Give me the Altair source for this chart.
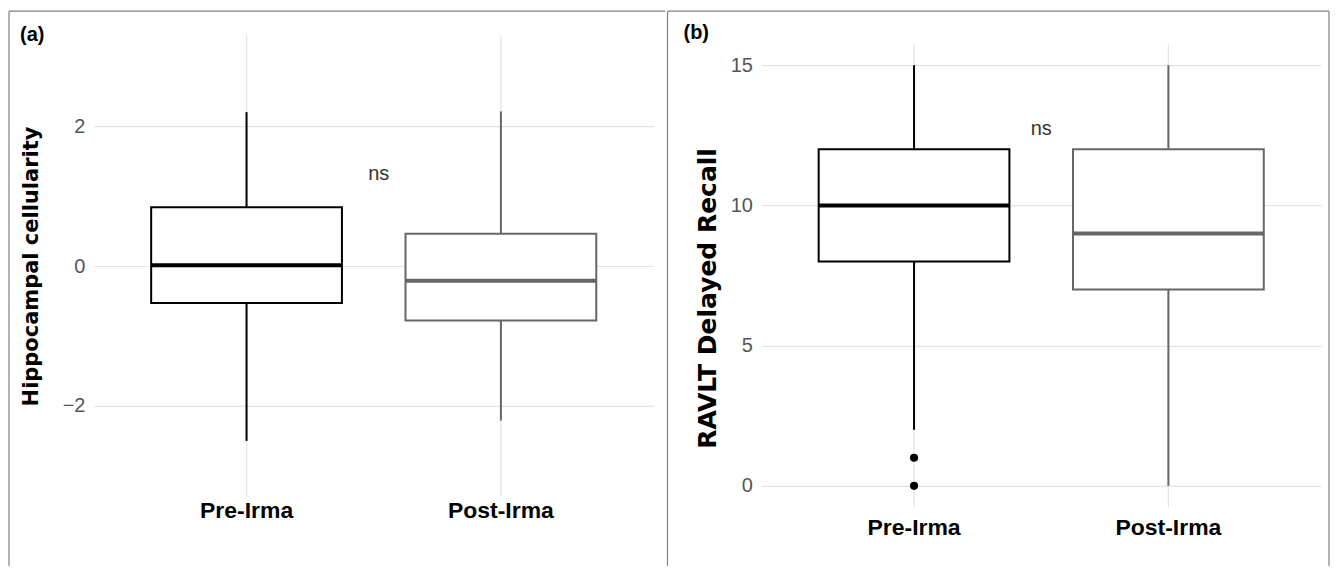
import altair as alt
import pandas as pd

groups = ["Pre-Irma", "Post-Irma"]
colors = ["#000000", "#666666"]
panel_tags = ["(a)", "(b)"]
ns_text = "ns"

# Panel (a): Hippocampal cellularity (box-plot summary values)
a_min = [-2.50, -2.21]
a_q1 = [-0.53, -0.78]
a_med = [0.01, -0.21]
a_q3 = [0.84, 0.46]
a_max = [2.20, 2.21]
a_domain = [-3.3, 3.3]
a_grid = [-3.3, 3.3]
a_ticks = [-2, 0, 2]
a_ns_y = 1.32

# Panel (b): RAVLT Delayed Recall
b_min = [2, 0]
b_q1 = [8, 7]
b_med = [10, 9]
b_q3 = [12, 12]
b_max = [15, 15]
b_out_group = ["Pre-Irma", "Pre-Irma"]
b_out_value = [1, 0]
b_domain = [-0.748, 16.07]
b_grid = [-0.75, 15.75]
b_ticks = [0, 5, 10, 15]
b_ns_y = 12.72

W = 560
STEP = W / 2.2
BAND = STEP * 0.75
GRID = "#e3e3e3"
BORDER = "#7f7f7f"


def panel(mins, q1s, meds, q3s, maxs, domain, grid, ticks, title, title_size,
          title_x, title_y, height, label_pad, ns_y, ns_dx, tag, tag_x, tag_y,
          borders, out_groups=None, out_values=None):
    df = pd.DataFrame({"group": groups, "lo": mins, "q1": q1s, "med": meds,
                       "q3": q3s, "hi": maxs,
                       "glo": [grid[0]] * 2, "ghi": [grid[1]] * 2})
    xenc = alt.X("group:N", sort=groups,
                 scale=alt.Scale(domain=groups, paddingInner=0.25, paddingOuter=0.225),
                 axis=alt.Axis(title=None, labelFont="Liberation Sans",
                               labelFontWeight="bold", labelFontSize=23,
                               labelColor="#000000", labelPadding=label_pad,
                               ticks=False, domain=False, grid=False, labelAngle=0))
    yscale = alt.Scale(domain=domain, nice=False, zero=False)
    yaxis = alt.Axis(values=ticks, title=title, titleFont="DejaVu Sans",
                     titleFontWeight="bold", titleFontSize=title_size,
                     titleColor="#000000", titleAngle=-90, titleX=title_x,
                     titleY=title_y, titleAlign="center", titleBaseline="middle",
                     labelFont="Liberation Sans", labelFontSize=20,
                     labelColor="#555555", labelPadding=9, ticks=False,
                     domain=False, grid=True, gridColor=GRID, gridWidth=1.2)

    def Y(f):
        return alt.Y(f + ":Q", scale=yscale, axis=yaxis)

    cscale = alt.Scale(domain=groups, range=colors)
    color = alt.Color("group:N", scale=cscale, legend=None)
    stroke = alt.Stroke("group:N", scale=cscale, legend=None)

    base = alt.Chart(df)
    vgrid = base.mark_rule(color=GRID, strokeWidth=1.2).encode(x=xenc, y=Y("glo"), y2="ghi:Q")
    wlo = base.mark_rule(strokeWidth=2).encode(x=xenc, y=Y("lo"), y2="q1:Q", color=color)
    whi = base.mark_rule(strokeWidth=2).encode(x=xenc, y=Y("q3"), y2="hi:Q", color=color)
    box = base.mark_bar(fill="white", strokeWidth=2).encode(x=xenc, y=Y("q1"), y2="q3:Q", stroke=stroke)
    med = base.mark_tick(thickness=4, size=BAND, opacity=1).encode(x=xenc, y=Y("med"), color=color)

    ns_df = pd.DataFrame({"group": [groups[0]], "y": [ns_y], "t": [ns_text]})
    ns = alt.Chart(ns_df).mark_text(font="Liberation Sans", fontSize=20, color="#333333",
                                    dx=STEP / 2 + ns_dx, baseline="middle").encode(
        x=xenc, y=Y("y"), text="t:N")

    tag_df = pd.DataFrame({"t": [tag]})
    tagm = alt.Chart(tag_df).mark_text(font="Liberation Sans", fontWeight="bold", fontSize=20,
                                       color="#000000", align="left", baseline="middle").encode(
        x=alt.value(tag_x), y=alt.value(tag_y), text="t:N")

    layers = [vgrid, wlo, whi, box, med]
    if out_groups is not None:
        odf = pd.DataFrame({"group": out_groups, "v": out_values})
        layers.append(alt.Chart(odf).mark_circle(size=66, opacity=1).encode(
            x=xenc, y=Y("v"), color=color))
    layers += [ns, tagm]
    for (x1, x2, y1, y2) in borders:
        bdf = pd.DataFrame({"k": [0]})
        layers.append(alt.Chart(bdf).mark_rule(color=BORDER, strokeWidth=1.2).encode(
            x=alt.value(x1), x2=alt.value(x2), y=alt.value(y1), y2=alt.value(y2)))
    return alt.layer(*layers).properties(width=W, height=height)


BOT = 531
pa = panel(a_min, a_q1, a_med, a_q3, a_max, a_domain, a_grid, a_ticks,
           "Hippocampal cellularity", 21, -62, 231, 462, 3, a_ns_y, 5,
           panel_tags[0], -74, 0,
           borders=[(-85, -85, -24, BOT), (-85, 571.5, -24, -24)])
pb = panel(b_min, b_q1, b_med, b_q3, b_max, b_domain, b_grid, b_ticks,
           "RAVLT Delayed Recall", 25, -54, 263, 472, 10, b_ns_y, 0,
           panel_tags[1], -78, -2,
           borders=[(-94, -94, -24, BOT), (-94, 568, -24, -24), (568, 568, -24, BOT)],
           out_groups=b_out_group, out_values=b_out_value)

chart = alt.hconcat(pa, pb, spacing=0).properties(
    padding={"left": 0, "top": 2, "right": 0, "bottom": 0}
).configure_view(stroke=None)

chart.save("out.html", embed_options={"renderer": "svg", "actions": False})
